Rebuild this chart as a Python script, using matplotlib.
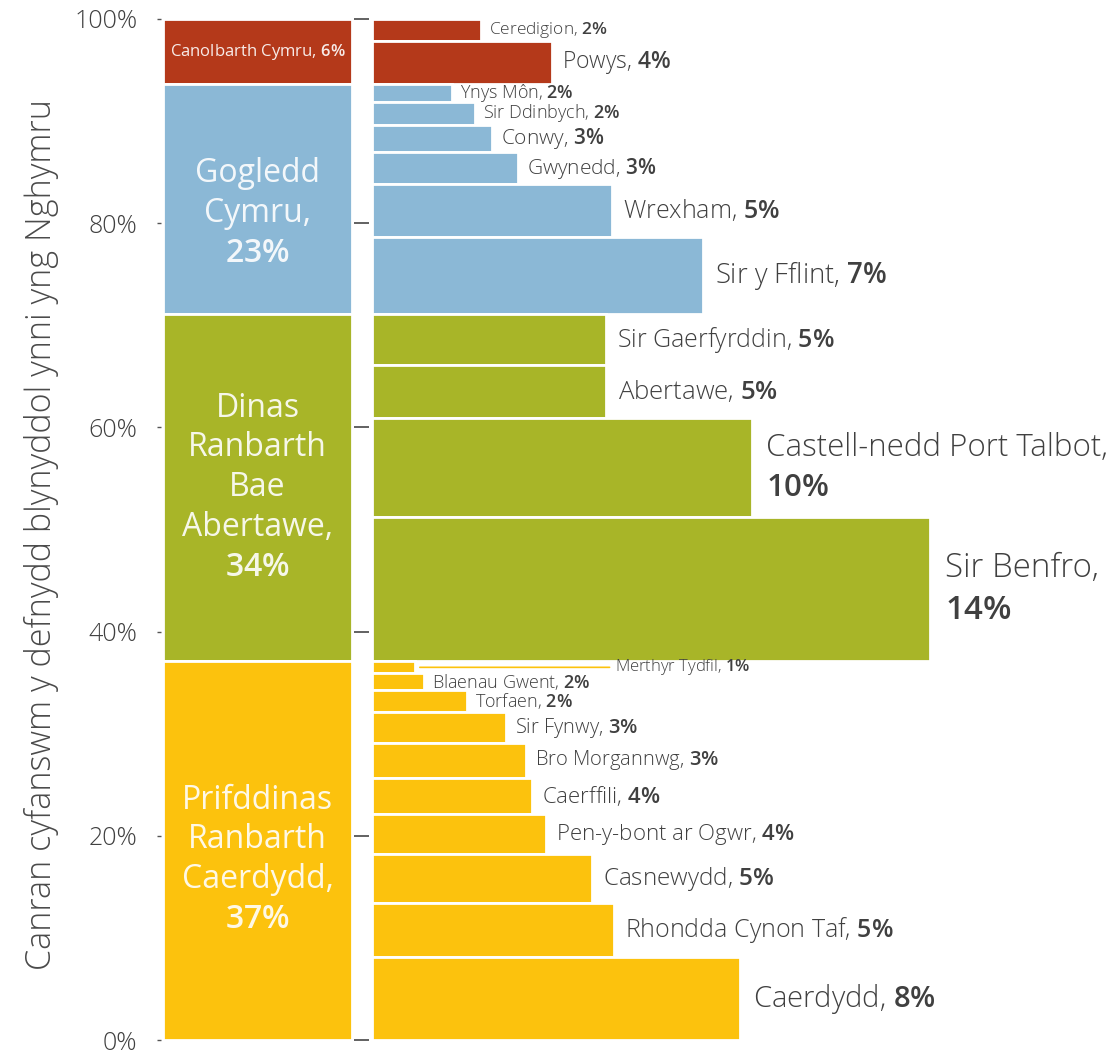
import matplotlib
matplotlib.use("Agg")
import matplotlib.pyplot as plt
import matplotlib.ticker as mticker
import numpy as np

plt.rcParams["font.family"] = ["Open Sans", "DejaVu Sans"]
plt.rcParams["font.weight"] = "light"
plt.rcParams["mathtext.fontset"] = "custom"
plt.rcParams["mathtext.rm"] = "Open Sans"
plt.rcParams["mathtext.bf"] = "Open Sans:semibold"

# --- data (top to bottom as in the chart) ---
regions = ["Canolbarth Cymru", "Gogledd Cymru",
           "Dinas Ranbarth Bae Abertawe", "Prifddinas Ranbarth Caerdydd"]
region_pct = [6, 23, 34, 37]

authorities = ["Ceredigion", "Powys",
               "Ynys Môn", "Sir Ddinbych", "Conwy", "Gwynedd", "Wrexham", "Sir y Fflint",
               "Sir Gaerfyrddin", "Abertawe", "Castell-nedd Port Talbot", "Sir Benfro",
               "Merthyr Tydfil", "Blaenau Gwent", "Torfaen", "Sir Fynwy", "Bro Morgannwg",
               "Caerffili", "Pen-y-bont ar Ogwr", "Casnewydd", "Rhondda Cynon Taf", "Caerdydd"]
region_of = [0, 0,
             1, 1, 1, 1, 1, 1,
             2, 2, 2, 2,
             3, 3, 3, 3, 3, 3, 3, 3, 3, 3]
# share of total annual energy use (bar height, %)
share = [2.2, 4.2,
         1.7, 2.3, 2.6, 3.2, 5.2, 7.5,
         5.0, 5.2, 9.7, 14.1,
         1.2, 1.6, 2.2, 3.0, 3.4, 3.6, 3.9, 4.8, 5.3, 8.1]
share_label = [2, 4,
               2, 2, 3, 3, 5, 7,
               5, 5, 10, 14,
               1, 2, 2, 3, 3, 4, 4, 5, 5, 8]
# bar length as drawn
bar_len = [2.73, 4.52,
           2.0, 2.58, 3.01, 3.66, 6.02, 8.30,
           5.87, 5.87, 9.53, 14.0,
           1.08, 1.30, 2.38, 3.36, 3.86, 4.01, 4.37, 5.52, 6.07, 9.23]

# --- styles ---
region_colors = ["#B4391A", "#8BB8D6", "#A8B528", "#FCC20D"]
region_text = ["Canolbarth Cymru,", "Gogledd\nCymru,",
               "Dinas\nRanbarth\nBae\nAbertawe,", "Prifddinas\nRanbarth\nCaerdydd,"]
region_fs = [12, 23, 23, 23]
region_shift = [0, -1.4, 0, -0.9]   # nudge label block down (in %)
label_fs = [12.5, 16.5,
            13, 13, 15, 15, 18, 19.8,
            18, 18.5, 22.5, 23.8,
            12, 13, 13, 14.5, 14.5, 16, 16, 17.5, 18, 21]
two_line = {"Castell-nedd Port Talbot", "Sir Benfro"}
TEXT = "#404040"

W, H = 1115, 1054
fig = plt.figure(figsize=(W / 100, H / 100), dpi=100)


def px_box(x0, x1, y_top, y_bot):
    return [x0 / W, 1 - y_bot / H, (x1 - x0) / W, (y_bot - y_top) / H]


ax_reg = fig.add_axes(px_box(161, 353, 19, 1040))
ax_la = fig.add_axes(px_box(369, 1115, 19, 1040))

# region column
reg_total = np.bincount(region_of, weights=share)
reg_top = 100 - np.concatenate([[0], np.cumsum(reg_total)[:-1]])
reg_bottom = reg_top - reg_total
ax_reg.bar(2, reg_total, width=189, bottom=reg_bottom, align="edge",
           color=region_colors, edgecolor="white", linewidth=2)
for i, txt in enumerate(region_text):
    label = txt + (" " if i == 0 else "\n") + r"$\mathbf{%d\%%}$" % region_pct[i]
    ax_reg.text(96.5, reg_bottom[i] + reg_total[i] / 2 + region_shift[i], label,
                ha="center", va="center", color="white", alpha=0.9,
                fontsize=region_fs[i], fontweight="normal", linespacing=1.27)

ax_reg.set_xlim(0, 192)
ax_reg.set_ylim(0, 100)
ax_reg.set_yticks(range(0, 101, 20))
ax_reg.yaxis.set_major_formatter(mticker.PercentFormatter(xmax=100, decimals=0))
ax_reg.tick_params(axis="y", length=3, width=1, color="#555555",
                   labelsize=18, labelcolor=TEXT, pad=14)
ax_reg.set_xticks([])

# local authority bars
share_arr = np.array(share)
top = 100 - np.concatenate([[0], np.cumsum(share_arr)[:-1]])
centers = top - share_arr / 2
colors = [region_colors[r] for r in region_of]
ax_la.barh(centers, bar_len, height=share_arr, color=colors,
           edgecolor="white", linewidth=2)

for i, name in enumerate(authorities):
    pct = r"$\mathbf{%d\%%}$" % share_label[i]
    fs = label_fs[i]
    if name in two_line:
        ax_la.annotate(name + ",\n" + pct, xy=(bar_len[i], centers[i]),
                       xytext=(0.45 * fs, 0), textcoords="offset points",
                       va="center", ha="left", fontsize=fs, color=TEXT, linespacing=1.35)
    elif name == "Merthyr Tydfil":
        ax_la.annotate(name + ", " + pct, xy=(bar_len[i] + 0.12, centers[i]),
                       xytext=(6.1, centers[i]), va="center", ha="left",
                       fontsize=fs, color=TEXT,
                       arrowprops=dict(arrowstyle="-", color=region_colors[3], lw=1.2,
                                       shrinkA=2, shrinkB=0))
    else:
        ax_la.annotate(name + ", " + pct, xy=(bar_len[i], centers[i]),
                       xytext=(0.45 * fs, 0), textcoords="offset points",
                       va="center", ha="left", fontsize=fs, color=TEXT)

ax_la.set_xlim(-0.075, 18.64)
ax_la.set_ylim(0, 100)
ax_la.set_yticks(range(0, 101, 20))
ax_la.tick_params(axis="y", length=11, width=1.3, color="#555555", labelleft=False)
ax_la.set_xticks([])

for ax in (ax_reg, ax_la):
    for s in ax.spines.values():
        s.set_visible(False)

fig.text(42 / W, 1 - 535 / H, "Canran cyfanswm y defnydd blynyddol ynni yng Nghymru",
         rotation=90, ha="center", va="center", fontsize=24.6, color="#4a4a4a")

fig.savefig("out.png", dpi=100)
